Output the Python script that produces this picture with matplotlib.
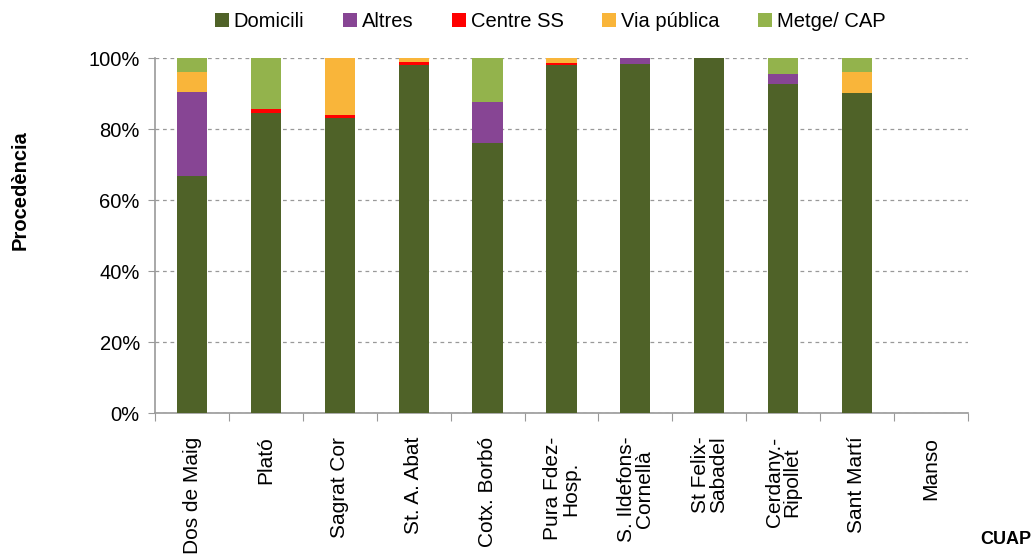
import matplotlib
matplotlib.use("Agg")
import matplotlib.pyplot as plt
import numpy as np
from matplotlib.patches import Patch

plt.rcParams['font.family'] = ['Liberation Sans', 'DejaVu Sans']

categories = ["Dos de Maig", "Plató", "Sagrat Cor", "St. A. Abat", "Cotx. Borbó",
              "Pura Fdez-\nHosp.", "S. Ildefons-\nCornellà", "St Felix-\nSabadel",
              "Cerdany.-\nRipollet", "Sant Martí", "Manso"]
series_names = ["Domicili", "Altres", "Centre SS", "Via pública", "Metge/ CAP"]
domicili = [66.7, 84.6, 83.2, 98.0, 76.1, 98.0, 98.4, 100.0, 92.8, 90.1, 0]
altres = [23.9, 0.0, 0.0, 0.0, 11.5, 0.0, 1.6, 0.0, 2.7, 0.0, 0]
centre_ss = [0.0, 1.0, 0.7, 1.0, 0.0, 0.7, 0.0, 0.0, 0.0, 0.0, 0]
via_publica = [5.5, 0.0, 16.1, 1.0, 0.0, 1.3, 0.0, 0.0, 0.0, 6.0, 0]
metge_cap = [3.9, 14.4, 0.0, 0.0, 12.4, 0.0, 0.0, 0.0, 4.5, 3.9, 0]
colors = ["#4F6228", "#874594", "#FF0000", "#F9B53A", "#93B34C"]

series = [domicili, altres, centre_ss, via_publica, metge_cap]

fig = plt.figure(figsize=(10.34, 5.59), dpi=100)
ax = fig.add_axes([0.150, 0.261, 0.786, 0.635])

x = np.arange(len(categories))
bottom = np.zeros(len(categories))
for vals, c in zip(series, colors):
    v = np.array(vals) / 100.0
    ax.bar(x, v, 0.41, bottom=bottom, color=c, edgecolor='none', zorder=3)
    bottom += v

ax.set_xlim(-0.5, len(categories) - 0.5)
ax.set_ylim(0, 1.0)
ax.set_yticks(np.arange(0, 1.01, 0.2))
ax.set_yticklabels([f"{int(round(t*100))}%" for t in np.arange(0, 1.01, 0.2)], fontsize=14.5)
ax.yaxis.grid(True, linestyle=(0, (3, 3)), color='#999999', linewidth=0.9, zorder=0)
ax.set_axisbelow(True)

ax.set_xticks(np.arange(-0.5, len(categories)), minor=False)
ax.set_xticklabels([])
ax.set_xticks(x, minor=True)
ax.set_xticklabels(categories, minor=True, rotation=90, fontsize=15,
                   ha='center', va='top', linespacing=0.92)
ax.tick_params(axis='x', which='minor', length=0, pad=17)
ax.tick_params(axis='x', which='major', length=6, color='#999999', direction='out')
ax.tick_params(axis='y', length=5, color='#999999', direction='out', pad=6)

for s in ['top', 'right']:
    ax.spines[s].set_visible(False)
for s in ['left', 'bottom']:
    ax.spines[s].set_color('#999999')
    ax.spines[s].set_linewidth(1.2)

ax.set_ylabel("Procedència", fontsize=14.5, fontweight='bold')
ax.yaxis.set_label_coords(-0.154, 0.628)
fig.text(0.997, 0.035, "CUAP", fontsize=13, fontweight='bold', ha='right', va='center')

handles = [Patch(facecolor=c, edgecolor='none') for c in colors]
fig.legend(handles, series_names, loc='center', bbox_to_anchor=(0.532, 0.962), ncol=5,
           frameon=False, fontsize=14.5, handlelength=0.7, handleheight=0.7,
           handletextpad=0.25, columnspacing=1.9)

fig.savefig("out.png", dpi=100)
